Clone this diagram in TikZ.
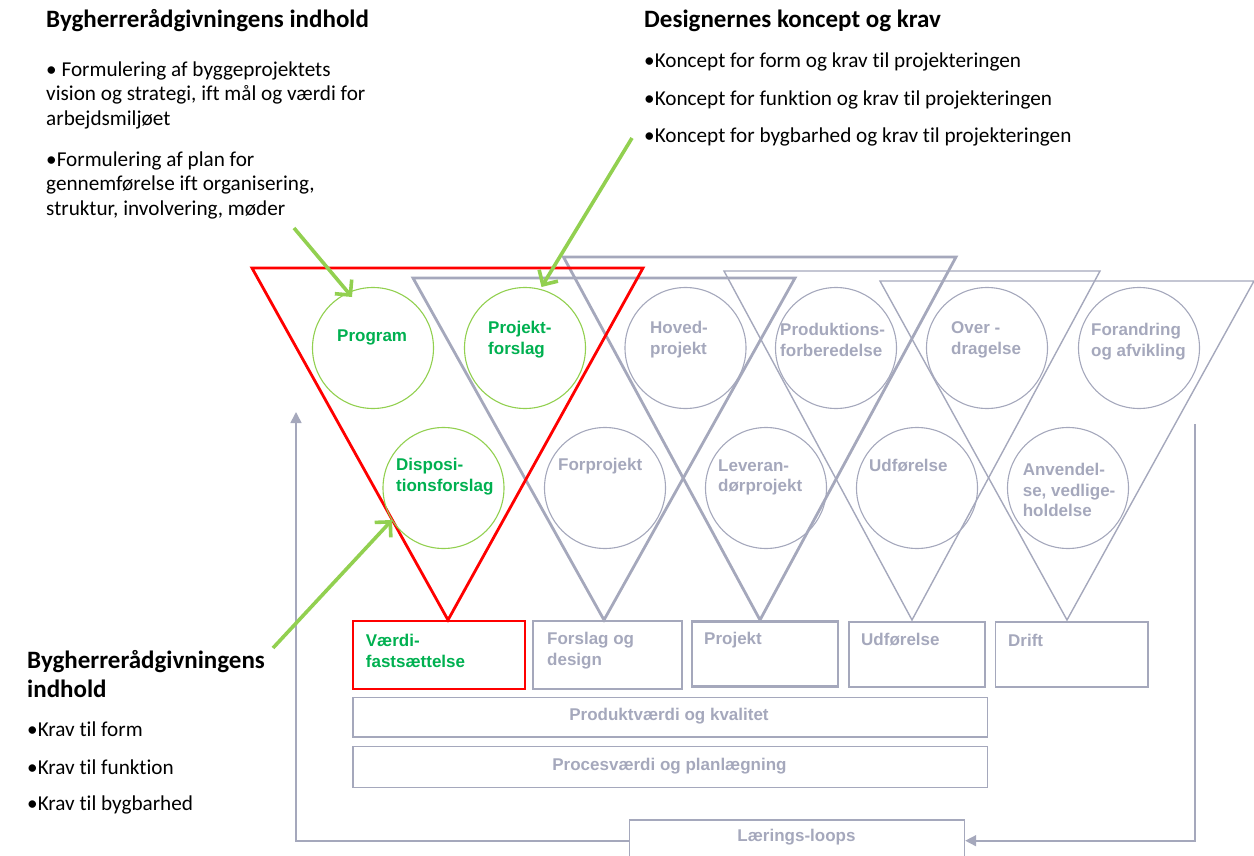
\documentclass[tikz,border=0pt]{standalone}
\usepackage{fontspec}
\setmainfont{Carlito}[Ligatures=NoCommon]
\newfontfamily\arialf{Liberation Sans}
\usetikzlibrary{arrows.meta}
\definecolor{gr}{RGB}{165,168,188}
\definecolor{lgreen}{RGB}{146,208,80}
\definecolor{dgreen}{RGB}{0,176,80}
\definecolor{myred}{RGB}{255,0,0}
\tikzset{
  thintri/.style={draw=gr, line width=1.4pt},
  thicktri/.style={draw=gr, line width=2.8pt},
  redtri/.style={draw=myred, line width=2.8pt},
  gcirc/.style={circle, draw=lgreen, line width=1.1pt, minimum size=121pt, inner sep=0pt},
  ccirc/.style={circle, draw=gr, line width=1.1pt, minimum size=121pt, inner sep=0pt},
  ctext/.style={anchor=west, align=left, inner sep=0pt, font=\arialf\bfseries\fontsize{17}{20.8}\selectfont, text=gr},
  gtext/.style={ctext, text=dgreen},
  thinbox/.style={draw=gr, line width=1.4pt, inner sep=0pt},
  thickbox/.style={draw=gr, line width=2.6pt, inner sep=0pt},
  redbox/.style={draw=myred, line width=2.6pt, inner sep=0pt},
  garrow/.style={draw=lgreen, line width=3.6pt, -{Straight Barb[length=11pt,width=22pt,line width=3.6pt]}},
  loopline/.style={draw=gr, line width=1.6pt},
  loopar/.style={loopline, -{Triangle[length=11pt,width=11pt]}},
  head/.style={anchor=west, inner sep=0pt, font=\bfseries\fontsize{25}{29}\selectfont},
  body/.style={anchor=west, inner sep=0pt, align=left, font=\fontsize{21.2}{24.5}\selectfont},
}
\begin{document}
\begin{tikzpicture}[x=1pt,y=-1pt]
\useasboundingbox (0,0) rectangle (1254,856);
% triangles
\draw[thintri] (880,281) -- (1254,281) -- (1067,620) -- cycle;
\draw[thintri] (724,271) -- (1100,271) -- (912,620) -- cycle;
\draw[thicktri] (563.5,257) -- (956,257) -- (760,620) -- cycle;
\draw[thicktri] (413,278) -- (795,278) -- (604,620) -- cycle;
\draw[redtri] (252,268) -- (643,268) -- (448,620) -- cycle;
% circles
\node[gcirc] (c1) at (373,348) {};
\node[gcirc] (c2) at (525,348) {};
\node[ccirc] (c3) at (685.5,348) {};
\node[ccirc] (c4) at (836,348) {};
\node[ccirc] (c5) at (987,348) {};
\node[ccirc] (c6) at (1139,348) {};
\node[gcirc] (d1) at (443.5,488) {};
\node[ccirc] (d2) at (605,488) {};
\node[ccirc] (d3) at (766,488) {};
\node[ccirc] (d4) at (917,488) {};
\node[ccirc] (d5) at (1068,488) {};
% circle texts
\node[gtext] (t1) at (337,337) {Program};
\node[gtext] (t2) at (488,340) {Projekt-\\forslag};
\node[ctext] (t3) at (650,340) {Hoved-\\projekt};
\node[ctext] (t4) at (780,340) {Produktions-\\forberedelse};
\node[ctext] (t5) at (951,340) {Over -\\dragelse};
\node[ctext] (t6) at (1091,342) {Forandring\\og afvikling};
\node[gtext] (s1) at (396,477) {Disposi-\\tionsforslag};
\node[ctext] (s2) at (558,466) {Forprojekt};
\node[ctext] (s3) at (718,477.5) {Leveran-\\dørprojekt};
\node[ctext] (s4) at (869,466) {Udførelse};
\node[ctext] (s5) at (1022.6,490) {Anvendel-\\se, vedlige-\\holdelse};
% phase boxes
\node[redbox, minimum width=172pt, minimum height=68pt] (b1) at (439,655) {};
\node[thickbox, minimum width=149pt, minimum height=68pt] (b2) at (607.5,655) {};
\node[thickbox, minimum width=146pt, minimum height=65pt] (b3) at (765,654) {};
\node[thinbox, minimum width=136pt, minimum height=65pt] (b4) at (917,654.5) {};
\node[thinbox, minimum width=152.5pt, minimum height=65pt] (b5) at (1071.75,654.5) {};
\node[gtext] (bt1) at (365.7,651) {Værdi-\\fastsættelse};
\node[ctext] (bt2) at (547,651) {Forslag og\\design};
\node[ctext] (bt3) at (704,640) {Projekt};
\node[ctext] (bt4) at (861,640) {Udførelse};
\node[ctext] (bt5) at (1008,640) {Drift};
\node[thinbox, minimum width=634.5pt, minimum height=39.3pt] (p1) at (670.25,717.35) {};
\node[thinbox, minimum width=634.5pt, minimum height=41pt] (p2) at (670.25,767.2) {};
\node[ctext, anchor=center] (pt1) at (669,716) {Produktværdi og kvalitet};
\node[ctext, anchor=center] (pt2) at (669.5,766) {Procesværdi og planlægning};
\node[thinbox, minimum width=334.8pt, minimum height=50pt] (lb) at (797.1,845) {};
\node[ctext, anchor=center] (lt) at (796.5,837) {Lærings-loops};
% learning loops
\coordinate (lup) at (296,412);
\coordinate (lbl) at (296,840.7);
\coordinate (rtop) at (1195,424);
\coordinate (rbot) at (1195,840.7);
\draw[loopar] (lb.west |- lbl) -- (lbl) -- (lup);
\draw[loopar] (rtop) -- (rbot) -- (lb.east |- rbot);
% headings and texts
\node[head] (h1) at (46,21) {Bygherrerådgivningens indhold};
\node[body] (tx1) at (46,95) {• Formulering af byggeprojektets\\vision og strategi, ift mål og værdi for\\arbejdsmiljøet};
\node[body] (tx2) at (46,185) {•Formulering af plan for\\gennemførelse ift organisering,\\struktur, involvering, møder};
\node[head] (h2) at (644,21) {Designernes koncept og krav};
\node[body] (r1) at (644,62) {•Koncept for form og krav til projekteringen};
\node[body] (r2) at (644,100) {•Koncept for funktion og krav til projekteringen};
\node[body] (r3) at (644,137) {•Koncept for bygbarhed og krav til projekteringen};
\node[head, align=left] (h3) at (27,674) {Bygherrerådgivningens\\indhold};
\node[body] (k1) at (27,729) {•Krav til form};
\node[body] (k2) at (27,767) {•Krav til funktion};
\node[body] (k3) at (27,805) {•Krav til bygbarhed};
% green arrows
\coordinate (a1s) at (294,228);
\coordinate (a1e) at (352,297);
\coordinate (a2s) at (632,138);
\coordinate (a2e) at (541.5,287);
\coordinate (a3s) at (273,648);
\coordinate (a3e) at (392,520);
\draw[garrow] (a1s) -- (a1e);
\draw[garrow] (a2s) -- (a2e);
\draw[garrow] (a3s) -- (a3e);
\end{tikzpicture}
\end{document}
